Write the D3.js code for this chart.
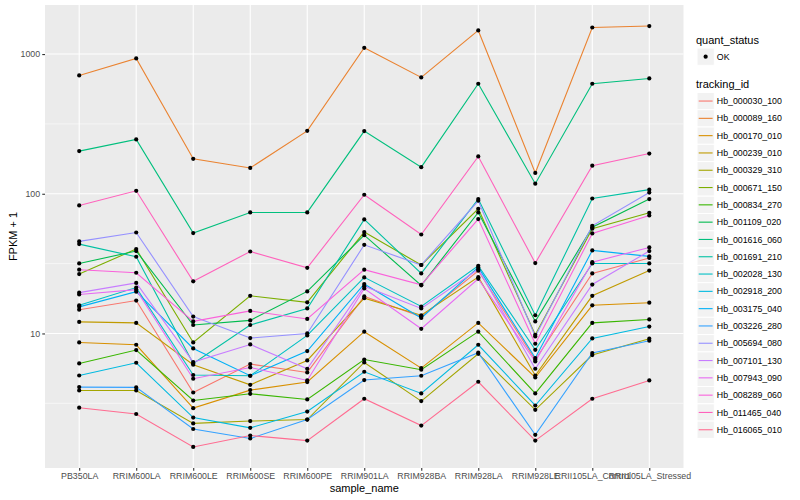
<!DOCTYPE html>
<html>
<head>
<meta charset="utf-8">
<script src="https://cdn.jsdelivr.net/npm/d3@7"></script>
<style>
body { margin: 0; background: #fff; }
text { font-family: "Liberation Sans", Arial, Helvetica, sans-serif; }
</style>
</head>
<body>
<div id="chart"></div>
<script>

// samples on the x axis
var samples = ["PB350LA", "RRIM600LA", "RRIM600LE", "RRIM600SE", "RRIM600PE", "RRIM901LA",
	       "RRIM928BA", "RRIM928LA", "RRIM928LE", "RRII105LA_Control", "RRII105LA_Stressed"];

var trackingIds = ["Hb_000030_100", "Hb_000089_160", "Hb_000170_010", "Hb_000239_010",
		   "Hb_000329_310", "Hb_000671_150", "Hb_000834_270", "Hb_001109_020",
		   "Hb_001616_060", "Hb_001691_210", "Hb_002028_130", "Hb_002918_200",
		   "Hb_003175_040", "Hb_003226_280", "Hb_005694_080", "Hb_007101_130",
		   "Hb_007943_090", "Hb_008289_060", "Hb_011465_040", "Hb_016065_010"];

// FPKM + 1, one row per tracking id, one value per sample
var fpkm = [
    [14.8, 17.2, 3.78, 6.04, 5.26, 18.4, 13.2, 28.1, 6.48, 26.9, 34.7],
    [703, 930, 178, 153, 282, 1109, 680, 1476, 141, 1550, 1587],
    [8.62, 8.30, 2.92, 3.93, 4.49, 10.3, 5.65, 11.9, 4.84, 15.9, 16.6],
    [12.1, 11.9, 5.97, 4.29, 6.41, 17.9, 13.5, 25.3, 5.00, 18.6, 28.2],
    [3.91, 3.91, 2.27, 2.36, 2.42, 6.20, 3.28, 7.15, 2.84, 7.00, 9.17],
    [26.6, 40.2, 8.62, 18.6, 16.7, 53.2, 30.9, 78.1, 9.79, 56.2, 73.1],
    [6.10, 7.61, 3.31, 3.70, 3.37, 6.51, 5.50, 10.3, 3.72, 11.9, 12.6],
    [31.7, 38.9, 11.5, 12.4, 20.0, 50.5, 22.1, 73.5, 12.2, 57.6, 91.6],
    [202, 245, 52.3, 73.5, 73.5, 281, 155, 613, 118, 613, 669],
    [43.6, 35.4, 6.10, 11.5, 15.1, 65.5, 26.9, 91.6, 13.5, 92.5, 107],
    [15.9, 21.3, 5.04, 4.98, 9.68, 25.2, 15.6, 30.5, 7.64, 31.7, 31.7],
    [5.00, 6.17, 2.50, 2.11, 2.76, 5.32, 3.72, 8.30, 3.05, 9.21, 11.2],
    [15.5, 19.9, 7.81, 4.98, 7.48, 22.6, 12.9, 29.7, 6.67, 39.3, 35.6],
    [4.13, 4.11, 2.07, 1.77, 2.42, 4.64, 4.98, 7.28, 1.88, 7.24, 8.87],
    [45.6, 52.8, 13.2, 9.27, 10.0, 43.1, 30.9, 89.1, 9.52, 59.0, 102],
    [19.6, 23.0, 6.24, 8.34, 5.59, 21.8, 15.1, 28.8, 5.59, 22.4, 38.9],
    [19.0, 20.6, 4.74, 5.71, 4.61, 21.0, 10.8, 24.6, 6.30, 32.4, 41.3],
    [28.6, 27.2, 12.2, 14.5, 12.7, 28.6, 22.3, 65.9, 8.44, 52.0, 69.9],
    [82.5, 105, 23.6, 38.6, 29.5, 98.4, 51.1, 185, 31.9, 159, 194],
    [2.94, 2.65, 1.54, 1.86, 1.71, 3.41, 2.19, 4.51, 1.71, 3.41, 4.61]
];

var yBreaks = [10, 100, 1000];
var yMinorBreaks = [3.1623, 31.623, 316.23];
var quantStatus = ["OK"];

// ggplot hue palette for 20 levels
var palette = ["#F8766D", "#EA8331", "#D89000", "#C09B00", "#A3A500", "#7CAE00", "#39B600",
	       "#00BB4E", "#00BF7D", "#00C1A3", "#00BFC4", "#00BAE0", "#00B0F6", "#35A2FF",
	       "#9590FF", "#C77CFF", "#E76BF3", "#FA62DB", "#FF62BC", "#FF6C91"];

var width = 800, height = 500;
var pLeft = 45, pRight = 683.5, pTop = 5, pBottom = 468;

var svg = d3.select("#chart").append("svg")
    .attr("width", width)
    .attr("height", height);

var xScale = d3.scalePoint()
    .domain(samples)
    .range([pLeft, pRight])
    .padding(0.6);

// log scale with ggplot's 5% expansion
var all = d3.merge(fpkm);
var lo = Math.log10(d3.min(all)), hi = Math.log10(d3.max(all));
var pad = (hi - lo) * 0.05;
var yScale = d3.scaleLog()
    .domain([Math.pow(10, lo - pad), Math.pow(10, hi + pad)])
    .range([pBottom, pTop]);

var color = d3.scaleOrdinal().domain(trackingIds).range(palette);

// panel
svg.append("rect")
    .attr("x", pLeft).attr("y", pTop)
    .attr("width", pRight - pLeft).attr("height", pBottom - pTop)
    .attr("fill", "#EBEBEB");

var grid = svg.append("g");
grid.selectAll(".minor")
    .data(yMinorBreaks)
    .enter().append("line")
    .attr("x1", pLeft).attr("x2", pRight)
    .attr("y1", function(d){ return yScale(d); })
    .attr("y2", function(d){ return yScale(d); })
    .attr("stroke", "#fff").attr("stroke-width", 0.55);
grid.selectAll(".major")
    .data(yBreaks)
    .enter().append("line")
    .attr("x1", pLeft).attr("x2", pRight)
    .attr("y1", function(d){ return yScale(d); })
    .attr("y2", function(d){ return yScale(d); })
    .attr("stroke", "#fff").attr("stroke-width", 1.1);
grid.selectAll(".vert")
    .data(samples)
    .enter().append("line")
    .attr("y1", pTop).attr("y2", pBottom)
    .attr("x1", function(d){ return xScale(d); })
    .attr("x2", function(d){ return xScale(d); })
    .attr("stroke", "#fff").attr("stroke-width", 1.1);

// lines
var line = d3.line()
    .x(function(d, i){ return xScale(samples[i]); })
    .y(function(d){ return yScale(d); });

svg.append("g").selectAll("path")
    .data(fpkm)
    .enter().append("path")
    .attr("d", line)
    .attr("fill", "none")
    .attr("stroke", function(d, i){ return color(trackingIds[i]); })
    .attr("stroke-width", 1.1);

// points
var pts = [];
fpkm.forEach(function(row){
    row.forEach(function(v, i){ pts.push({s: samples[i], v: v}); });
});
svg.append("g").selectAll("circle")
    .data(pts)
    .enter().append("circle")
    .attr("cx", function(d){ return xScale(d.s); })
    .attr("cy", function(d){ return yScale(d.v); })
    .attr("r", 2.1)
    .attr("fill", "#000");

// axes
var yAxis = d3.axisLeft(yScale)
    .tickValues(yBreaks)
    .tickFormat(d3.format("d"))
    .tickSize(2.75)
    .tickPadding(2.2);
var xAxis = d3.axisBottom(xScale)
    .tickSize(2.75)
    .tickPadding(2.5);

var yG = svg.append("g").attr("transform", "translate(" + pLeft + ",0)").call(yAxis);
var xG = svg.append("g").attr("transform", "translate(0," + pBottom + ")").call(xAxis);

[yG, xG].forEach(function(g){
    g.select(".domain").remove();
    g.selectAll(".tick line").attr("stroke", "#333333").attr("stroke-width", 1.1);
    g.selectAll(".tick text")
	.attr("fill", "#4D4D4D")
	.style("font-size", "8.8px")
	.style("font-family", "'Liberation Sans', Arial, sans-serif");
});

svg.append("text")
    .attr("x", (pLeft + pRight) / 2).attr("y", 492)
    .attr("text-anchor", "middle")
    .style("font-size", "11px")
    .text("sample_name");

svg.append("text")
    .attr("transform", "translate(16.5," + ((pTop + pBottom) / 2) + ") rotate(-90)")
    .attr("text-anchor", "middle")
    .style("font-size", "11px")
    .text("FPKM + 1");

// legends
var lx = 697, key = 17.3;
var legend = svg.append("g");

legend.append("text")
    .attr("x", lx - 1).attr("y", 44)
    .style("font-size", "11px")
    .text("quant_status");

var okRows = legend.selectAll(".ok")
    .data(quantStatus)
    .enter().append("g")
    .attr("transform", function(d, i){ return "translate(" + lx + "," + (48 + i * key) + ")"; });
okRows.append("rect")
    .attr("width", key).attr("height", key)
    .attr("fill", "#F2F2F2").attr("stroke", "#fff");
okRows.append("circle")
    .attr("cx", key / 2).attr("cy", key / 2).attr("r", 2.1).attr("fill", "#000");
okRows.append("text")
    .attr("x", key + 2.5).attr("y", key / 2 + 3.1)
    .style("font-size", "8.8px")
    .text(function(d){ return d; });

legend.append("text")
    .attr("x", lx - 1).attr("y", 88.3)
    .style("font-size", "11px")
    .text("tracking_id");

var idRows = legend.selectAll(".id")
    .data(trackingIds)
    .enter().append("g")
    .attr("transform", function(d, i){ return "translate(" + lx + "," + (92.4 + i * key) + ")"; });
idRows.append("rect")
    .attr("width", key).attr("height", key)
    .attr("fill", "#F2F2F2").attr("stroke", "#fff");
idRows.append("line")
    .attr("x1", 1.7).attr("x2", key - 1.7)
    .attr("y1", key / 2).attr("y2", key / 2)
    .attr("stroke", function(d){ return color(d); })
    .attr("stroke-width", 1.1);
idRows.append("text")
    .attr("x", key + 2.5).attr("y", key / 2 + 3.1)
    .style("font-size", "8.8px")
    .text(function(d){ return d; });

</script>
</body>
</html>
